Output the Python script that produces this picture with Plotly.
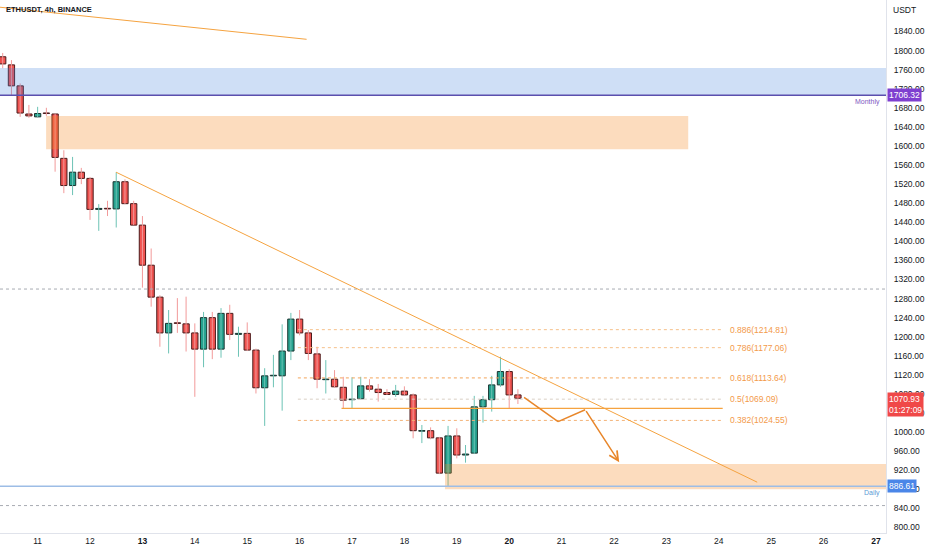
import pandas as pd
import plotly.graph_objects as go

first_candle = "2022-06-10 08:00"

opens = [1787, 1770, 1726, 1667, 1661, 1669, 1667, 1574, 1517, 1545,
         1532, 1467, 1469, 1468, 1525, 1479, 1434, 1350, 1283, 1208,
         1229, 1227, 1208, 1174, 1240, 1174, 1249, 1205, 1207, 1172,
         1093, 1118, 1118, 1170, 1237, 1208, 1164, 1110, 1111, 1094,
         1068, 1070, 1097, 1090, 1083, 1079, 1086, 1078, 1002, 1003,
         988, 914, 992, 952, 956, 1053, 1068, 1099, 1127, 1078]
highs = [1795, 1780, 1731, 1686, 1682, 1680, 1668, 1591, 1577, 1554,
         1535, 1478, 1485, 1545, 1530, 1485, 1453, 1385, 1287, 1256,
         1281, 1284, 1228, 1252, 1252, 1260, 1267, 1221, 1230, 1175,
         1134, 1162, 1226, 1250, 1256, 1214, 1179, 1151, 1130, 1116,
         1115, 1116, 1111, 1101, 1090, 1099, 1096, 1081, 1015, 1010,
         990, 1013, 1008, 973, 1076, 1076, 1118, 1158, 1132, 1090]
lows = [1763, 1707, 1661, 1659, 1660, 1663, 1546, 1501, 1497, 1520,
        1445, 1422, 1453, 1429, 1478, 1434, 1303, 1263, 1179, 1165,
        1208, 1169, 1074, 1136, 1153, 1156, 1193, 1158, 1170, 1081,
        1013, 1094, 1045, 1151, 1203, 1151, 1092, 1081, 1093, 1050,
        1050, 1069, 1085, 1064, 1078, 1074, 1077, 987, 977, 985,
        912, 886.61, 945, 936, 954, 1020, 1043, 1095, 1050, 1059]
closes = [1772, 1726, 1669, 1663, 1668, 1668, 1576, 1517, 1545, 1532,
          1467, 1469, 1468, 1525, 1479, 1434, 1350, 1283, 1208, 1228,
          1228, 1208, 1174, 1240, 1174, 1249, 1205, 1207, 1172, 1093,
          1118, 1119, 1170, 1237, 1208, 1165, 1111, 1111, 1095, 1067,
          1069, 1097, 1090, 1083, 1079, 1086, 1078, 1003, 1003, 988,
          914, 992, 952, 954, 1053, 1068, 1099, 1127, 1078, 1070.93]

day_ticks = ["2022-06-%02d" % d for d in range(11, 28)]
day_labels = ["11", "12", "<b>13</b>", "14", "15", "16", "17", "18", "19",
              "<b>20</b>", "21", "22", "23", "24", "25", "26", "<b>27</b>"]
price_ticks = list(range(800, 1841, 40))

# niveaux dessinés
monthly_level = 1706.32
blue_zone = [1706.32, 1763.5]
supply_zone = [1593, 1663]
demand_zone = [880, 933]
daily_level = 886.61
gray_levels = [1300, 846]
fib_ratios = ["0.886", "0.786", "0.618", "0.5", "0.382"]
fib_prices = [1214.81, 1177.06, 1113.64, 1069.09, 1024.55]
fib_colors = ["#f6c08a", "#f6c08a", "#f3a45a", "#d9cfc4", "#f3b277"]
fib_base = 1050
last_price = 1070.93
countdown = "01:27:09"

UP, DOWN = "#26a28f", "#ef5350"
UP_EDGE, DOWN_EDGE = "#17332f", "#4a1a1a"
UP_WICK, DOWN_WICK = "#6cc3b5", "#f29a9a"
ORANGE = "#f5a340"
FONT = "Liberation Sans"

t0 = pd.Timestamp("2022-06-11 00:00")


def at(i):
    # position en nombre de bougies de 4h depuis le 11 à 00:00
    return t0 + pd.Timedelta(hours=4 * i)


times = pd.date_range(first_candle, periods=len(opens), freq="4h")
up = [c >= o for o, c in zip(opens, closes)]

fig = go.Figure()

# mèches
for flag, col in [(True, UP_WICK), (False, DOWN_WICK)]:
    wx, wy = [], []
    for t, h, l, u in zip(times, highs, lows, up):
        if u == flag:
            wx += [t, t, None]
            wy += [l, h, None]
    fig.add_trace(go.Scatter(x=wx, y=wy, mode="lines",
                             line=dict(color=col, width=1), hoverinfo="skip"))

# corps
base = [min(o, c) for o, c in zip(opens, closes)]
height = [max(abs(c - o), 1.2) for o, c in zip(opens, closes)]
fig.add_trace(go.Bar(
    x=times, base=base, y=height,
    width=4 * 3600 * 1000 * 0.72,
    marker=dict(color=[UP if u else DOWN for u in up],
                line=dict(color=[UP_EDGE if u else DOWN_EDGE for u in up], width=1)),
    hoverinfo="skip"
))

shapes = []
# zones
shapes.append(dict(type="rect", xref="paper", x0=0, x1=1, y0=blue_zone[0], y1=blue_zone[1],
                   fillcolor="rgba(70,130,220,0.26)", line_width=0, layer="above"))
shapes.append(dict(type="rect", x0=at(0.97), x1=at(74.5), y0=supply_zone[0], y1=supply_zone[1],
                   fillcolor="rgba(245,140,40,0.3)", line_width=0, layer="above"))
shapes.append(dict(type="rect", xref="x", x0=at(46.65), x1=at(97.2), y0=demand_zone[0], y1=demand_zone[1],
                   fillcolor="rgba(245,140,40,0.3)", line_width=0, layer="above"))
# niveaux horizontaux
shapes.append(dict(type="line", xref="paper", x0=0, x1=1, y0=monthly_level, y1=monthly_level,
                   line=dict(color="#5b4fae", width=1.5)))
shapes.append(dict(type="line", xref="paper", x0=0, x1=1, y0=daily_level, y1=daily_level,
                   line=dict(color="#9dbde6", width=1.5)))
for g in gray_levels:
    shapes.append(dict(type="line", xref="paper", x0=0, x1=1, y0=g, y1=g,
                       line=dict(color="#a8abb3", width=1, dash="dot")))
# retracement de Fibonacci
for p, c in zip(fib_prices, fib_colors):
    shapes.append(dict(type="line", x0=at(29.8), x1=at(78.45), y0=p, y1=p,
                       line=dict(color=c, width=1, dash="dot")))
shapes.append(dict(type="line", x0=at(34.8), x1=at(78.45), y0=fib_base, y1=fib_base,
                   line=dict(color=ORANGE, width=1.2)))
# lignes de tendance
shapes.append(dict(type="line", x0=at(8.98), x1=at(82.4), y0=1545, y1=895,
                   line=dict(color=ORANGE, width=1)))
shapes.append(dict(type="line", x0=at(-4.4), x1=at(30.8), y0=1891, y1=1823.6,
                   line=dict(color=ORANGE, width=1)))
# scénario projeté
path_x = [55.7, 59.6, 62.7]
path_y = [1073, 1022, 1047]
for i in range(len(path_x) - 1):
    shapes.append(dict(type="line", x0=at(path_x[i]), x1=at(path_x[i + 1]),
                       y0=path_y[i], y1=path_y[i + 1],
                       line=dict(color="#e8862a", width=1.5)))

annotations = [
    dict(x=at(66.6), y=937, ax=at(62.7), ay=1047, axref="x", ayref="y",
         showarrow=True, arrowhead=5, arrowsize=1.2, arrowwidth=1.5,
         arrowcolor="#e8862a", text=""),
    dict(xref="paper", yref="paper", x=0, y=1, xshift=4, yshift=-3, xanchor="left", yanchor="top",
         text="<b>ETHUSDT, 4h, BINANCE</b>", showarrow=False,
         font=dict(family=FONT, size=7.5, color="#131722")),
    dict(xref="paper", yref="paper", x=1, y=1, xshift=5, yshift=-3, xanchor="left", yanchor="top",
         text="USDT", showarrow=False, font=dict(family=FONT, size=8.5, color="#131722")),
    dict(xref="paper", x=1, y=monthly_level, xshift=-4, yshift=-1, xanchor="right", yanchor="top",
         text="Monthly", showarrow=False, font=dict(family=FONT, size=7, color="#7e57c2")),
    dict(xref="paper", x=1, y=daily_level, xshift=-4, yshift=-1, xanchor="right", yanchor="top",
         text="Daily", showarrow=False, font=dict(family=FONT, size=7, color="#5b9bd5")),
    dict(xref="paper", x=1, y=monthly_level, xshift=1, xanchor="left", yanchor="middle",
         text="1706.32", showarrow=False, bgcolor="#7e3fd0", borderpad=1,
         font=dict(family=FONT, size=8.5, color="white")),
    dict(xref="paper", x=1, y=daily_level, xshift=1, xanchor="left", yanchor="middle",
         text="%.2f" % daily_level, showarrow=False, bgcolor="#4a86e8", borderpad=1,
         font=dict(family=FONT, size=8.5, color="white")),
    dict(xref="paper", x=1, y=last_price, xshift=1, yshift=6, xanchor="left", yanchor="top",
         text="%.2f<br>%s" % (last_price, countdown), showarrow=False, bgcolor="#f04848",
         borderpad=1, align="left", font=dict(family=FONT, size=8.5, color="white")),
]
for r, p in zip(fib_ratios, fib_prices):
    annotations.append(dict(x=at(79.1), y=p, xanchor="left", yanchor="middle",
                            text="%s(%.2f)" % (r, p), showarrow=False,
                            font=dict(family=FONT, size=8.5, color="#f39a4a")))

fig.update_layout(
    width=932, height=550,
    margin=dict(l=0, r=46, t=0, b=17),
    plot_bgcolor="white", paper_bgcolor="white",
    showlegend=False, barmode="overlay",
    shapes=shapes, annotations=annotations,
    xaxis=dict(range=[at(-4.31), at(97.15)], tickvals=day_ticks, ticktext=day_labels,
               showgrid=False, zeroline=False, showline=True, linecolor="#e0e3eb",
               ticks="", tickfont=dict(family=FONT, size=8.5, color="#131722")),
    yaxis=dict(range=[788.5, 1906], side="right", tickvals=price_ticks,
               ticktext=["%.2f" % v for v in price_ticks],
               showgrid=False, zeroline=False, showline=True, linecolor="#e0e3eb",
               ticks="", ticklabelstandoff=5,
               tickfont=dict(family=FONT, size=8.5, color="#131722")),
)

# la page ajoute 8px de marge au body : on la retire pour coller à la fenêtre
fig.write_html("out.html", config={"displayModeBar": False},
               post_script="document.body.style.margin='0px';")
